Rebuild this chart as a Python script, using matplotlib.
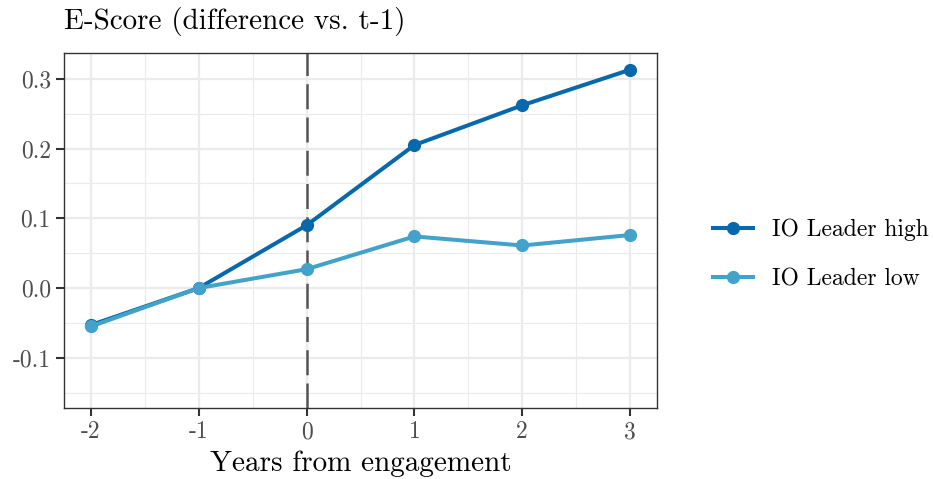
import matplotlib
matplotlib.use("Agg")
import matplotlib.pyplot as plt
from matplotlib.lines import Line2D

years = [-2, -1, 0, 1, 2, 3]
high = [-0.053, 0.0, 0.090, 0.205, 0.262, 0.313]
low = [-0.055, 0.0, 0.027, 0.074, 0.061, 0.076]
series_names = ["IO Leader high", "IO Leader low"]
colors = ["#0868ac", "#43a2ca"]
xticks = [-2, -1, 0, 1, 2, 3]
xticklabels = ["-2", "-1", "0", "1", "2", "3"]
yticks = [-0.1, 0.0, 0.1, 0.2, 0.3]
yticklabels = ["-0.1", "0.0", "0.1", "0.2", "0.3"]

plt.rcParams['font.family'] = ['cmr10', 'DejaVu Serif']
plt.rcParams['axes.formatter.use_mathtext'] = True

W, H = 933, 479
fig = plt.figure(figsize=(W/100, H/100), dpi=100)
ax = fig.add_axes([64/W, (H-408)/H, 593/W, 355/H])

ax.set_xlim(-2.25, 3.25)
ax.set_ylim(-0.172, 0.337)

# grid
for x in [-2, -1, 0, 1, 2, 3]:
    ax.axvline(x, color="#ebebeb", lw=1.6, zorder=0)
for x in [-1.5, -0.5, 0.5, 1.5, 2.5]:
    ax.axvline(x, color="#ebebeb", lw=0.8, zorder=0)
for y in yticks:
    ax.axhline(y, color="#ebebeb", lw=1.6, zorder=0)
for y in [-0.15, -0.05, 0.05, 0.15, 0.25]:
    ax.axhline(y, color="#ebebeb", lw=0.8, zorder=0)

ax.axvline(0, color="#555555", lw=1.8, ls=(0, (10, 3.3)), zorder=1)

for vals, c, name in zip([high, low], colors, series_names):
    ax.plot(years, vals, color=c, lw=2.9, marker="o", ms=8.5, label=name, zorder=3)

ax.set_xticks(xticks)
ax.set_xticklabels(xticklabels)
ax.set_yticks(yticks)
ax.set_yticklabels(yticklabels)
ax.tick_params(axis="both", direction="out", length=5.5, width=1.5, color="#333333",
               labelcolor="#4d4d4d", labelsize=17, pad=4)
for s in ax.spines.values():
    s.set_color("#333333")
    s.set_linewidth(1.0)

ax.set_xlabel("Years from engagement", fontsize=21, color="black", labelpad=5)
ax.set_title("E-Score (difference vs. t-1)", fontsize=21, loc="left", x=0.0, pad=17)

handles = [Line2D([0], [0], color=c, lw=2.9, marker="o", ms=8.5) for c in colors]
leg = ax.legend(handles, series_names, loc="center left", bbox_to_anchor=(1.058, 0.432),
                frameon=False, fontsize=17, handlelength=1.7, labelspacing=1.15,
                handletextpad=0.8)

fig.savefig("out.png", dpi=100)
